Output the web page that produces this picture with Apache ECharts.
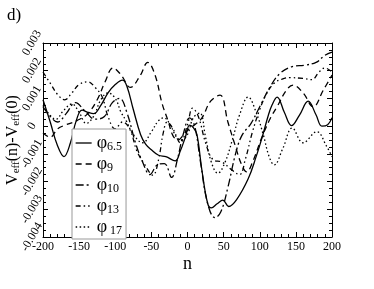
<!DOCTYPE html>
<html>
<head>
<meta charset="utf-8">
<script src="https://cdn.jsdelivr.net/npm/echarts@6/dist/echarts.min.js"></script>
<style>
html, body { margin: 0; padding: 0; background: #fff; }
#container1 { width: 374px; height: 289px; }
</style>
</head>
<body>
<div id="container1"></div>
<script>
// values in units of 0.001, pairs of [n, V(n)-V(0)]
var phi65 = [[-200,0.95],[-190,0.15],[-180,-0.7],[-171,-1.1],[-162,-0.6],[-154,0.2],[-146,0.58],[-138,0.5],[-130,0.45],[-120,0.75],[-110,1.2],[-100,1.5],[-90,1.66],[-84,1.45],[-75,0.6],[-65,-0.3],[-58,-0.65],[-50,-0.85],[-40,-1.05],[-30,-1.1],[-17,-1.25],[-10,-0.9],[-3,-0.4],[3,0.04],[8,-0.05],[13,-0.3],[20,-1.6],[28,-2.8],[33,-2.95],[41,-2.8],[49,-2.67],[57,-2.9],[68,-2.65],[84,-1.9],[95,-1.1],[103,-0.43],[112,0.4],[117,0.76],[124,1.05],[134,0.5],[144,0.02],[155,0.4],[167,0.9],[178,0.4],[186,0.0],[194,0.05],[200,0.3]];
var phi9 = [[-200,-0.25],[-190,-0.4],[-180,-0.1],[-168,0.05],[-153,0.2],[-138,0.45],[-125,0.95],[-114,1.6],[-103,2.1],[-92,1.85],[-79,1.4],[-66,1.8],[-55,2.3],[-45,1.85],[-35,0.8],[-27,0.2],[-20,-0.35],[-13,-0.5],[-5,-0.3],[2,-0.1],[10,0.05],[20,0.3],[32,0.9],[45,1.12],[56,0.14],[66,-0.7],[75,-1.4],[82,-1.65],[90,-1.3],[103,-0.4],[115,0.3],[124,0.7],[137,1.3],[146,1.48],[160,1.2],[174,0.7],[188,1.3],[200,1.84]];
var phi10 = [[-200,0.7],[-190,0.35],[-180,0.15],[-168,0.45],[-155,0.85],[-142,0.55],[-128,0.25],[-115,0.35],[-104,0.85],[-94,1.0],[-84,0.5],[-72,-0.6],[-62,-1.3],[-52,-1.75],[-42,-1.4],[-32,-1.35],[-22,-1.85],[-14,-1.2],[-6,-0.3],[3,0.3],[10,0.0],[18,-1.3],[28,-2.8],[38,-3.3],[46,-3.1],[56,-2.2],[66,-1.05],[75,-0.35],[88,0.1],[100,0.7],[114,1.4],[128,1.9],[145,2.15],[162,2.2],[178,2.3],[190,2.55],[200,2.67]];
var phi13 = [[-200,1.95],[-190,1.55],[-180,1.15],[-170,0.95],[-160,1.2],[-150,1.5],[-138,1.6],[-128,1.4],[-118,1.05],[-110,0.35],[-100,-0.1],[-90,0.15],[-80,-0.1],[-70,-0.9],[-60,-1.35],[-48,-1.77],[-40,-1.2],[-34,-0.3],[-28,0.15],[-20,-0.1],[-10,-0.6],[0,0.05],[7,0.65],[15,0.35],[25,-0.6],[35,-1.2],[48,-1.3],[60,-1.55],[72,-1.75],[80,-1.2],[90,-0.2],[100,0.6],[110,1.2],[120,1.55],[131,1.7],[142,1.75],[160,1.72],[172,1.68],[182,1.95],[190,2.1],[200,1.95]];
var phi17 = [[-200,0.75],[-192,0.45],[-182,0.25],[-172,0.55],[-160,0.8],[-150,0.5],[-140,0.1],[-130,0.35],[-120,0.95],[-110,1.2],[-100,1.0],[-92,0.5],[-85,0.2],[-75,-0.3],[-62,-0.6],[-50,-0.2],[-40,0.2],[-33,0.3],[-25,0.1],[-15,-0.4],[-8,-0.5],[0,-0.3],[8,0.3],[17,0.47],[25,-0.4],[33,-1.3],[42,-1.7],[52,-1.3],[62,-0.5],[72,0.4],[84,1.05],[95,0.5],[105,-0.32],[113,-1.1],[120,-1.4],[132,-0.8],[145,-0.07],[160,-0.6],[179,-0.2],[192,-0.7],[200,-1.1]];

var seriesNames = ['φ6.5', 'φ9', 'φ10', 'φ13', 'φ17'];
var subscripts = {'φ6.5': '6.5', 'φ9': '9', 'φ10': '10', 'φ13': '13', 'φ17': ' 17'};
var seriesData = [phi65, phi9, phi10, phi13, phi17];
var dashTypes = ['solid', [6, 4], [8, 3, 2, 3], [5, 3, 1.5, 3, 1.5, 3], [1.5, 2.5]];

var xTicks = {min: -200, max: 200, interval: 50};
var yTicks = {min: -4, max: 3, interval: 1};

var dom = document.getElementById("container1");
var myChart = echarts.init(dom);
var serif = 'Liberation Serif';

var tickStyle = {color: '#000', width: 1};
var frameLine = {show: true, onZero: false, lineStyle: {color: '#000', width: 1}};

option = {
    animation: false,
    color: ['#000'],
    title: {
        text: 'd)',
        left: 2,
        top: 2,
        textStyle: {fontFamily: serif, fontSize: 17, fontWeight: 'normal', color: '#000'}
    },
    legend: {
        orient: 'vertical',
        left: 72,
        top: 129,
        padding: [4, 4, 2, 3],
        itemGap: 1,
        itemWidth: 16,
        itemHeight: 8,
        backgroundColor: '#fff',
        borderColor: '#999',
        borderWidth: 1,
        borderRadius: 0,
        data: seriesNames,
        itemStyle: {color: 'rgba(0,0,0,0)', borderWidth: 0},
        lineStyle: {color: '#000', width: 1.3},
        formatter: function (name) {
            return '{p|φ}{s|' + subscripts[name] + '}';
        },
        textStyle: {
            fontFamily: serif,
            color: '#000',
            rich: {
                p: {fontSize: 18, lineHeight: 14, fontFamily: serif, color: '#000'},
                s: {fontSize: 12, lineHeight: 12, fontFamily: serif, color: '#000', padding: [8, 0, 0, 0]}
            }
        }
    },
    grid: {
        left: 43,
        right: 42,
        top: 43,
        bottom: 52,
        containLabel: false,
        outerBoundsMode: 'none'
    },
    xAxis: [
        {
            type: 'value',
            min: xTicks.min,
            max: xTicks.max,
            interval: xTicks.interval,
            name: 'n',
            nameLocation: 'middle',
            nameGap: 18,
            nameMoveOverlap: false,
            nameTextStyle: {fontFamily: serif, fontSize: 18, color: '#000'},
            axisLine: frameLine,
            axisTick: {inside: true, length: 5, lineStyle: tickStyle},
            minorTick: {show: true, splitNumber: 5, length: 3, lineStyle: tickStyle},
            splitLine: {show: false},
            axisLabel: {fontFamily: serif, fontSize: 12, color: '#000', margin: 4}
        },
        {
            type: 'value',
            position: 'top',
            min: xTicks.min,
            max: xTicks.max,
            interval: xTicks.interval,
            axisLine: frameLine,
            axisTick: {inside: true, length: 5, lineStyle: tickStyle},
            minorTick: {show: true, splitNumber: 5, length: 3, lineStyle: tickStyle},
            splitLine: {show: false},
            axisLabel: {show: false}
        }
    ],
    yAxis: [
        {
            type: 'value',
            min: yTicks.min,
            max: yTicks.max,
            interval: yTicks.interval,
            name: '{a|V}{b|eff}{a|(n)-V}{b|eff}{a|(0)}',
            nameLocation: 'middle',
            nameGap: 22,
            nameMoveOverlap: false,
            nameRotate: 90,
            nameTextStyle: {
                rich: {
                    a: {fontFamily: serif, fontSize: 16, lineHeight: 16, color: '#000'},
                    b: {fontFamily: serif, fontSize: 11, lineHeight: 11, color: '#000', padding: [7, 0, 0, 0]}
                }
            },
            axisLine: frameLine,
            axisTick: {inside: true, length: 5, lineStyle: tickStyle},
            minorTick: {show: true, splitNumber: 4, length: 3, lineStyle: tickStyle},
            splitLine: {show: false},
            axisLabel: {
                fontFamily: serif,
                fontSize: 12,
                color: '#000',
                rotate: 60,
                align: 'center',
                verticalAlign: 'middle',
                margin: 11,
                formatter: function (v) {
                    return v === 0 ? '0' : (v / 1000).toFixed(3);
                }
            }
        },
        {
            type: 'value',
            position: 'right',
            min: yTicks.min,
            max: yTicks.max,
            interval: yTicks.interval,
            axisLine: frameLine,
            axisTick: {inside: true, length: 5, lineStyle: tickStyle},
            minorTick: {show: true, splitNumber: 4, length: 3, lineStyle: tickStyle},
            splitLine: {show: false},
            axisLabel: {show: false}
        }
    ],
    series: seriesNames.map(function (name, i) {
        return {
            name: name,
            type: 'line',
            smooth: 0.4,
            symbol: 'none',
            data: seriesData[i],
            lineStyle: {color: '#000', width: 1.3, type: dashTypes[i]},
            itemStyle: {color: '#000'}
        };
    })
};

if (option && typeof option === "object") {
    myChart.setOption(option, true);
}
</script>
</body>
</html>
